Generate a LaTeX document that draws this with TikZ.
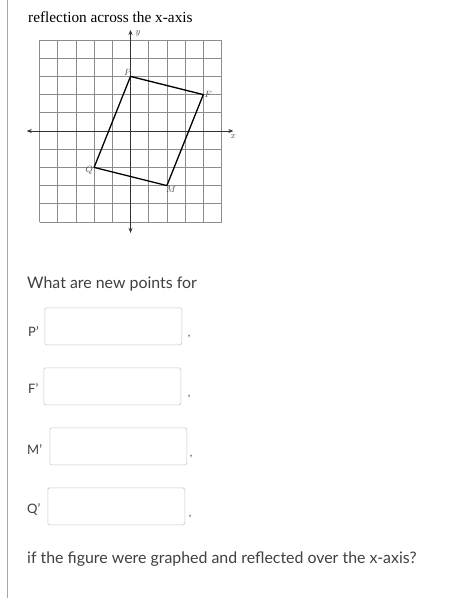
\documentclass[tikz,border=0pt]{standalone}
\usepackage{fontspec}
\setmainfont{Lato}
\newfontfamily\serifnum{Liberation Serif}
\usetikzlibrary{arrows.meta}
\tikzset{
  gridline/.style={draw=black!45, line width=0.7pt},
  axisline/.style={draw=black!80, line width=0.7pt, -{Stealth[length=5pt,width=4pt]}},
  shapeline/.style={draw=black, line width=1.3pt, line join=round},
  ptlabel/.style={font=\serifnum\itshape\fontsize{9.5}{10}\selectfont, inner sep=1pt, text=black!70},
  answerbox/.style={draw=black!22, line width=0.7pt, rounded corners=1.5pt, minimum width=137pt, minimum height=37pt, inner sep=0pt, anchor=north west},
  qtext/.style={font=\fontsize{15.9}{18}\selectfont, text=black!75, anchor=base west, inner sep=0pt},
  lbltext/.style={font=\fontsize{13}{15}\selectfont, text=black!75, anchor=base west, inner sep=0pt},
  commatext/.style={font=\fontsize{11}{12}\selectfont, text=black!75, anchor=base, inner sep=0pt}
}
\begin{document}
\begin{tikzpicture}[x=1pt,y=-1pt]
\useasboundingbox[fill=white] (0,0) rectangle (459,598);
\draw[draw=black!35, line width=0.8pt] (7,0) -- (7,598);
\node[anchor=base west, inner sep=0pt, font=\serifnum\fontsize{15.3}{17}\selectfont] (title) at (28,22.5) {reflection across the x-axis};
\begin{scope}[shift={(130.5,131)}, x=18.2pt, y=18.2pt]
  \draw[gridline, step=1] (-5,-5) grid (5,5);
  \coordinate (xl) at (-5.7,0); \coordinate (xr) at (5.65,0);
  \coordinate (yb) at (0,-5.6); \coordinate (yt) at (0,5.55);
  \draw[axisline] (0,0) -- (xl);
  \draw[axisline] (0,0) -- (xr);
  \draw[axisline] (0,0) -- (yb);
  \draw[axisline] (0,0) -- (yt);
  \coordinate (P) at (0,3);
  \coordinate (F) at (4,2);
  \coordinate (M) at (2,-3);
  \coordinate (Q) at (-2,-2);
  \draw[shapeline] (P) -- (F) -- (M) -- (Q) -- cycle;
  \node[ptlabel, anchor=south east, xshift=2pt] (Pl) at (P) {$P$};
  \node[ptlabel, anchor=west] (Fl) at (F) {$F$};
  \node[ptlabel, anchor=north west, xshift=-2pt] (Ml) at (M) {$M$};
  \node[ptlabel, anchor=east, yshift=-3pt] (Ql) at (Q) {$Q$};
  \node[ptlabel, anchor=north, yshift=-2pt] (xlab) at (xr) {$x$};
  \node[ptlabel, anchor=west, xshift=5pt, yshift=-3pt, inner sep=0pt] (ylab) at (yt) {$y$};
\end{scope}
\node[qtext] (q1) at (27,288) {What are new points for};
\node[lbltext] (lP) at (28,336) {P'};
\node[answerbox] (bP) at (44.5,307.5) {};
\node[commatext] (cP) at (189,336) {,};
\node[lbltext] (lF) at (28,393.5) {F'};
\node[answerbox] (bF) at (43.5,367.5) {};
\node[commatext] (cF) at (189,396) {,};
\node[lbltext] (lM) at (27,454.5) {M'};
\node[answerbox] (bM) at (49.5,427.5) {};
\node[commatext] (cM) at (191,456) {,};
\node[lbltext] (lQ) at (27,513) {Q'};
\node[answerbox] (bQ) at (47.5,487.5) {};
\node[commatext] (cQ) at (190,516) {,};
\node[qtext] (q2) at (27,563.5) {if the figure were graphed and reflected over the x-axis?};
\end{tikzpicture}
\end{document}
